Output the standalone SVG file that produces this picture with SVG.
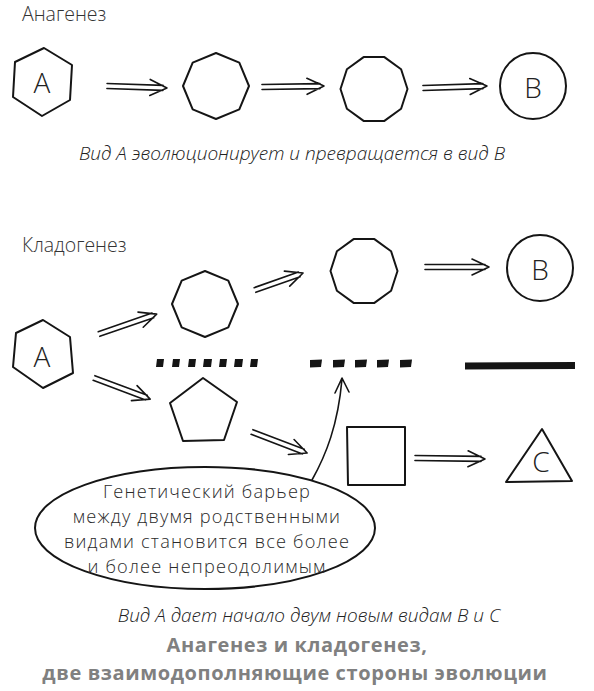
<svg xmlns="http://www.w3.org/2000/svg" width="594" height="691" viewBox="0 0 594 691">
<style>
.shape{fill:none;stroke:#151515;stroke-width:2;stroke-linejoin:round}
.arr{fill:none;stroke:#151515;stroke-width:1.6;stroke-linecap:round;stroke-linejoin:round}
.dash{fill:#151515}
.sec{font-family:"Open Sans","Liberation Sans",sans-serif;font-weight:300;font-size:19.5px;fill:#333}
.let{font-family:"Open Sans","Liberation Sans",sans-serif;font-weight:300;font-size:28px;fill:#222;text-anchor:middle}
.cap{font-family:"Open Sans","Liberation Sans",sans-serif;font-weight:300;font-style:italic;font-size:19px;fill:#222;text-anchor:middle}
.note{font-family:"Open Sans","Liberation Sans",sans-serif;font-weight:300;font-size:18.2px;letter-spacing:1.2px;fill:#2a2a2a;text-anchor:middle}
.title{font-family:"Open Sans","Liberation Sans",sans-serif;font-weight:700;font-size:20px;letter-spacing:0.6px;fill:#808080;text-anchor:middle}
</style>
<rect width="594" height="691" fill="#fff"/>

<text class="sec" x="22" y="21">Анагенез</text>
<text class="sec" x="22" y="252">Кладогенез</text>

<g id="ana-A">
<polygon class="shape" points="44,48 72,65 70,100 42,116 13,97 15,62"/>
<text class="let" x="42" y="93">A</text>
</g>
<g id="ana-oct">
<polygon class="shape" points="249,86 239.3,109.3 216,119 192.7,109.3 183,86 192.7,62.7 216,53 239.3,62.7"/>
</g>
<g id="ana-dec">
<polygon class="shape" points="407.5,89 401.1,108.7 384.4,120.9 363.6,120.9 346.9,108.7 340.5,89 346.9,69.3 363.6,57.1 384.4,57.1 401.1,69.3"/>
</g>
<g id="ana-B">
<circle class="shape" cx="533" cy="86" r="33"/>
<text class="let" x="533" y="98">B</text>
</g>

<text class="cap" x="292" y="160">Вид А эволюционирует и превращается в вид В</text>

<g id="cla-A">
<polygon class="shape" points="43,320 70,337 73,373 43,388 13,367 16,333"/>
<text class="let" x="42" y="367">A</text>
</g>
<g id="cla-oct">
<polygon class="shape" points="238,304 228.3,327.3 205,337 181.7,327.3 172,304 181.7,280.7 205,271 228.3,280.7"/>
</g>
<g id="cla-dec">
<polygon class="shape" points="397.5,271 391.1,290.7 374.4,302.9 353.6,302.9 336.9,290.7 330.5,271 336.9,251.3 353.6,239.1 374.4,239.1 391.1,251.3"/>
</g>
<g id="cla-B">
<circle class="shape" cx="540" cy="268" r="33"/>
<text class="let" x="540" y="280">B</text>
</g>
<g id="cla-pent">
<polygon class="shape" points="203,378 237,402 224,440 183,441 170,403"/>
</g>
<g id="cla-square">
<polygon class="shape" points="347,427 405,427 405,485 348,485"/>
</g>
<g id="cla-C">
<polygon class="shape" points="542,429 572,481 506,482"/>
<text class="let" x="541" y="472">C</text>
</g>

<g id="barriers">
<g class="dash">
<polygon points="157,359 164,359 163,367 156,367"/>
<polygon points="173,359 180,359 179,367 172,367"/>
<polygon points="189,359 196,359 195,367 188,367"/>
<polygon points="204,359 212,359 211,367 203,367"/>
<polygon points="220,359 227,359 226,367 219,367"/>
<polygon points="235,359 243,359 242,367 234,367"/>
<polygon points="251,359 258,359 257,367 250,367"/>
<polygon points="310,360 322,359.5 321,367 310,367.5"/>
<polygon points="333,360 345,359.5 344,367 333,367.5"/>
<polygon points="355,360 367,359.5 366,367 355,367.5"/>
<polygon points="377,360 389,359.5 388,367 377,367.5"/>
<polygon points="400,360 412,359.5 411,367 400,367.5"/>
<polygon points="465,362.5 575,362 575,369 465,369.5"/>
</g>
</g>

<g id="note">
<ellipse class="shape" cx="205" cy="528" rx="170" ry="61"/>
<text class="note" x="207" y="498">Генетический барьер</text>
<text class="note" x="207" y="523">между двумя родственными</text>
<text class="note" x="207" y="548">видами становится все более</text>
<text class="note" x="207" y="573">и более непреодолимым</text>
</g>

<g id="connectors">
<path class="arr" transform="translate(107,86) rotate(1.9)" d="M0,-2.5 H56 M0,2.5 H56 M43,-8 L60,0 L43,8"/>
<path class="arr" transform="translate(262,87) rotate(-0.9)" d="M0,-2.5 H58 M0,2.5 H58 M45,-8 L62,0 L45,8"/>
<path class="arr" transform="translate(423,88) rotate(-1.8)" d="M0,-2.5 H60 M0,2.5 H60 M47,-8 L64,0 L47,8"/>
<path class="arr" transform="translate(99,334) rotate(-19)" d="M0,-2.5 H57 M0,2.5 H57 M44,-8 L61,0 L44,8"/>
<path class="arr" transform="translate(255,290) rotate(-19.5)" d="M0,-2.5 H47 M0,2.5 H47 M34,-8 L51,0 L34,8"/>
<path class="arr" transform="translate(425,267)" d="M0,-2.5 H60 M0,2.5 H60 M47,-8 L64,0 L47,8"/>
<path class="arr" transform="translate(94,378) rotate(20.6)" d="M0,-2.5 H56 M0,2.5 H56 M43,-8 L60,0 L43,8"/>
<path class="arr" transform="translate(252,432) rotate(20.9)" d="M0,-2.5 H55 M0,2.5 H55 M42,-8 L59,0 L42,8"/>
<path class="arr" transform="translate(415,458) rotate(0.8)" d="M0,-2.5 H66 M0,2.5 H66 M53,-8 L70,0 L53,8"/>
<path class="arr" d="M312,480 C326,455 338,425 342,379 M335,393 L342,378 L349,392"/>
</g>

<text class="cap" x="309" y="622">Вид А дает начало двум новым видам В и С</text>
<text class="title" x="297" y="652">Анагенез и кладогенез,</text>
<text class="title" x="295" y="680">две взаимодополняющие стороны эволюции</text>
</svg>
